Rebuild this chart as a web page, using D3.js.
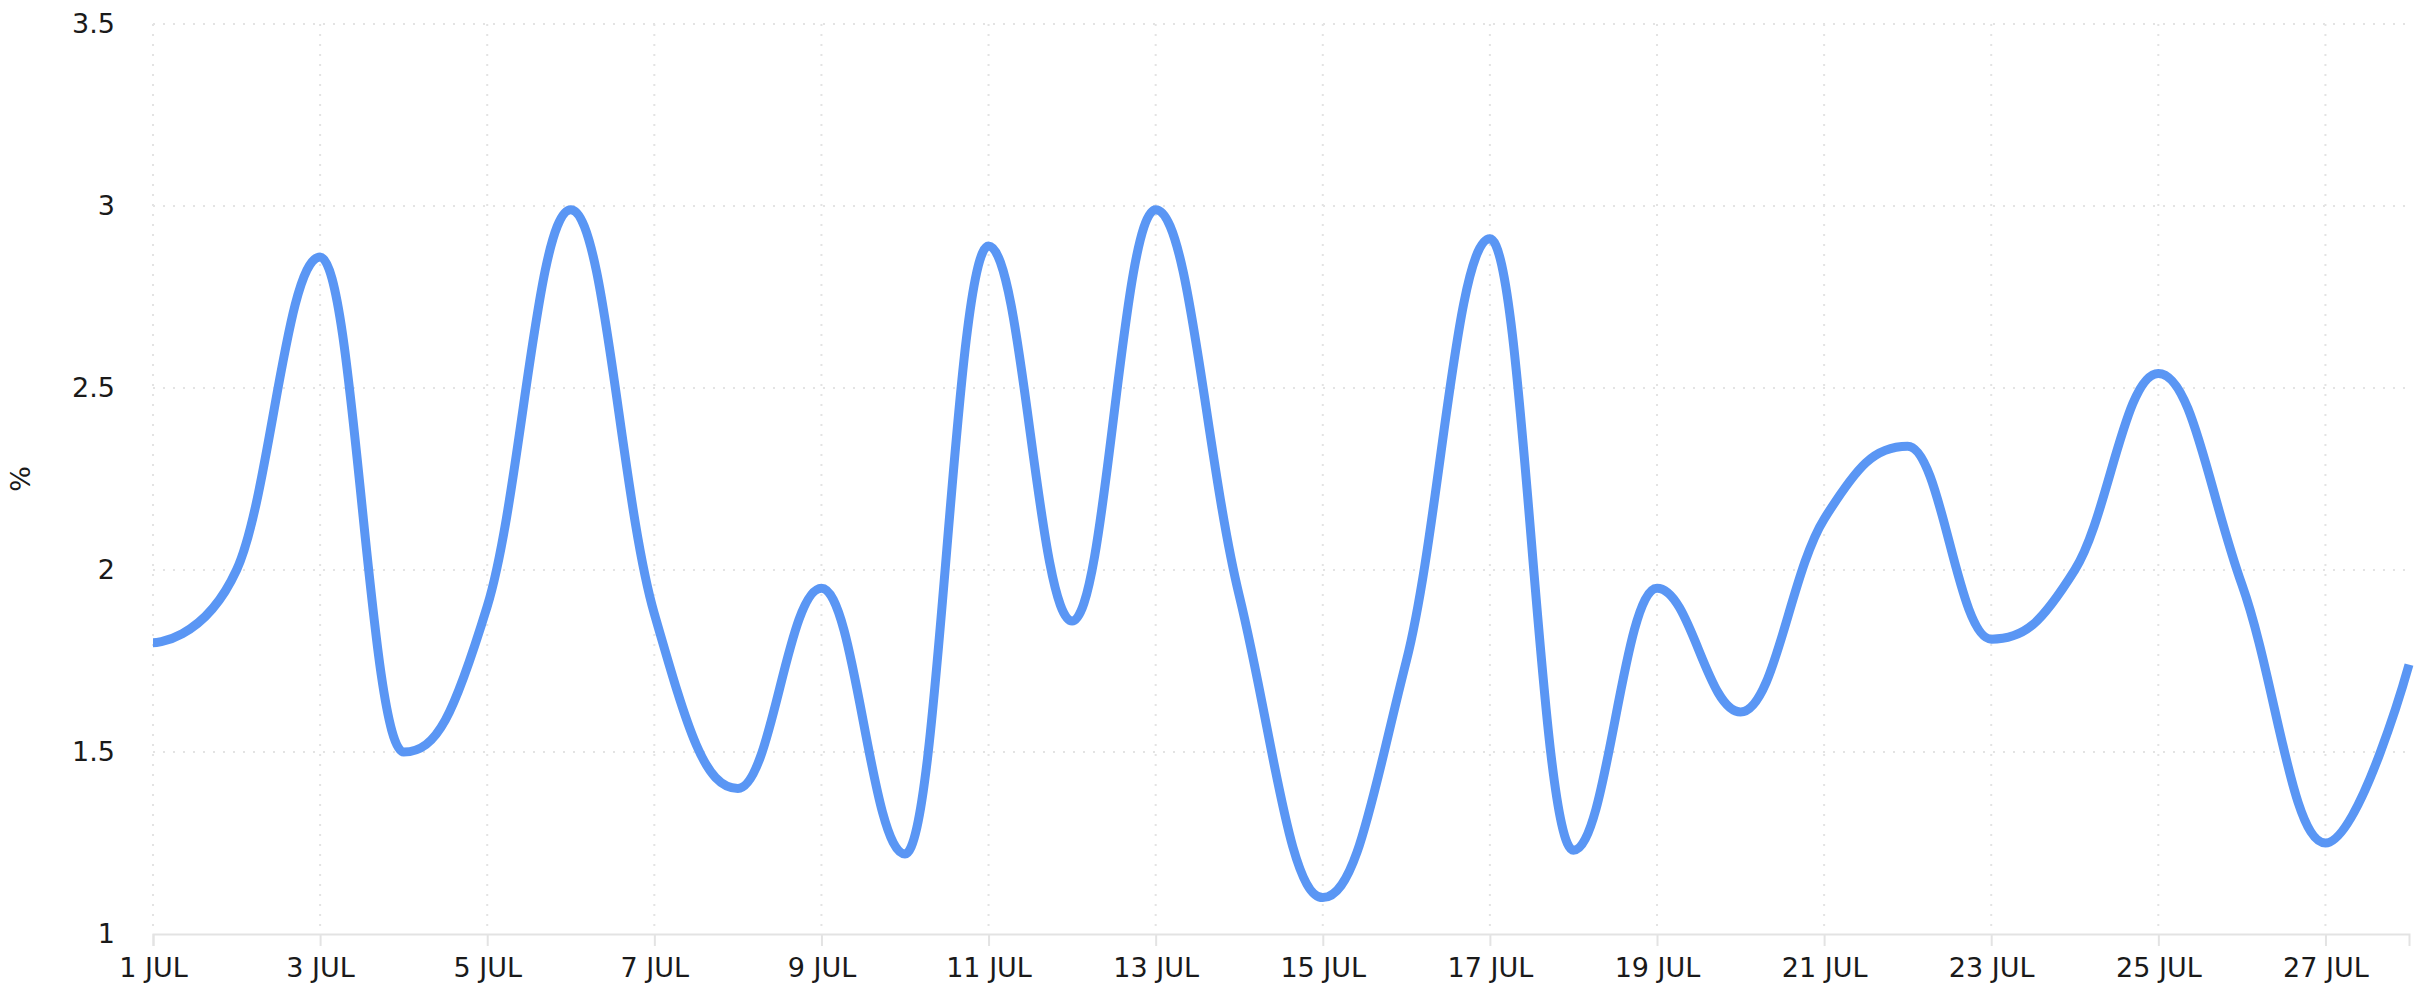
<!DOCTYPE html>
<html>
<head>
<meta charset="utf-8">
<script src="https://cdn.jsdelivr.net/npm/d3@7"></script>
<style>
  body { margin: 0; background: #fff; }
  svg { display: block; font-family: "DejaVu Sans", sans-serif; }
</style>
</head>
<body>
<svg id="chart" width="2425" height="1000"></svg>
<script>
// daily values, July
var days = [1, 2, 3, 4, 5, 6, 7, 8, 9, 10, 11, 12, 13, 14, 15, 16, 17, 18, 19, 20, 21, 22, 23, 24, 25, 26, 27, 28];
var values = [1.80, 2.00, 2.86, 1.50, 1.90, 2.99, 1.88, 1.40, 1.95, 1.22, 2.89, 1.86, 2.99, 1.93,
              1.10, 1.75, 2.91, 1.23, 1.95, 1.61, 2.14, 2.34, 1.81, 2.00, 2.54, 1.96, 1.25, 1.74];
var xTicks = [1, 3, 5, 7, 9, 11, 13, 15, 17, 19, 21, 23, 25, 27];
var yTicks = [1, 1.5, 2, 2.5, 3, 3.5];
var monthLabel = 'JUL';
var yLabel = '%';

var margin = { top: 24, right: 16, bottom: 66, left: 153 };
var width = 2425 - margin.left - margin.right;
var height = 1000 - margin.top - margin.bottom;

// spline curve: control points at 0.4 of each interval, flattened at extremes
function Spline(context) { this._context = context; }
Spline.prototype = {
    areaStart: function () { this._line = 0; },
    areaEnd: function () { this._line = NaN; },
    lineStart: function () { this._px = []; this._py = []; },
    point: function (x, y) { this._px.push(+x); this._py.push(+y); },
    lineEnd: function () {
        var px = this._px, py = this._py, n = px.length, ctx = this._context;
        if (!n) return;
        var L = [], R = [];
        R[0] = [px[0], py[0]];
        L[n - 1] = [px[n - 1], py[n - 1]];
        for (var i = 1; i < n - 1; i++) {
            var lastX = px[i - 1], lastY = py[i - 1];
            var plotX = px[i], plotY = py[i];
            var nextX = px[i + 1], nextY = py[i + 1];
            var lcx = (1.5 * plotX + lastX) / 2.5, lcy = (1.5 * plotY + lastY) / 2.5;
            var rcx = (1.5 * plotX + nextX) / 2.5, rcy = (1.5 * plotY + nextY) / 2.5;
            if (rcx !== lcx) {
                var corr = ((rcy - lcy) * (rcx - plotX)) / (rcx - lcx) + plotY - rcy;
                lcy += corr;
                rcy += corr;
            }
            if (lcy > lastY && lcy > plotY) {
                lcy = Math.max(lastY, plotY);
                rcy = 2 * plotY - lcy;
            } else if (lcy < lastY && lcy < plotY) {
                lcy = Math.min(lastY, plotY);
                rcy = 2 * plotY - lcy;
            }
            if (rcy > nextY && rcy > plotY) {
                rcy = Math.max(nextY, plotY);
                lcy = 2 * plotY - rcy;
            } else if (rcy < nextY && rcy < plotY) {
                rcy = Math.min(nextY, plotY);
                lcy = 2 * plotY - rcy;
            }
            L[i] = [lcx, lcy];
            R[i] = [rcx, rcy];
        }
        ctx.moveTo(px[0], py[0]);
        for (var j = 1; j < n; j++) {
            ctx.bezierCurveTo(R[j - 1][0], R[j - 1][1], L[j][0], L[j][1], px[j], py[j]);
        }
    }
};
function curveSpline(context) { return new Spline(context); }

var svg = d3.select('#chart');
var g = svg.append('g').attr('transform', 'translate(' + margin.left + ',' + margin.top + ')');

var x = d3.scaleLinear().domain([1, 28]).range([0, width]);
var y = d3.scaleLinear().domain([1, 3.5]).range([height, 0]);

// grid
g.append('g')
    .selectAll('line.hgrid')
    .data(yTicks.filter(function (d) { return d > 1; }))
    .enter().append('line')
    .attr('x1', 0).attr('x2', width)
    .attr('y1', function (d) { return y(d); })
    .attr('y2', function (d) { return y(d); })
    .style('stroke', '#e3e3e3')
    .style('stroke-width', 2)
    .style('stroke-dasharray', '2,8');

g.append('g')
    .selectAll('line.vgrid')
    .data(xTicks)
    .enter().append('line')
    .attr('x1', function (d) { return x(d); })
    .attr('x2', function (d) { return x(d); })
    .attr('y1', 0).attr('y2', height)
    .style('stroke', '#e3e3e3')
    .style('stroke-width', 2)
    .style('stroke-dasharray', '2,8');

// x axis
var xAxis = g.append('g')
    .attr('transform', 'translate(0,' + height + ')')
    .call(d3.axisBottom(x)
        .tickValues(xTicks)
        .tickSize(12)
        .tickPadding(12)
        .tickFormat(function (d) { return d + ' ' + monthLabel; }));
xAxis.select('.domain').style('stroke', '#e3e3e3').style('stroke-width', 2);
xAxis.selectAll('.tick line').style('stroke', '#e3e3e3').style('stroke-width', 2);
xAxis.selectAll('text')
    .style('font-family', '"DejaVu Sans", sans-serif')
    .style('font-size', '27px')
    .style('fill', '#1a1a1a');

// y axis
var yAxis = g.append('g')
    .call(d3.axisLeft(y)
        .tickValues(yTicks)
        .tickSize(0)
        .tickPadding(38)
        .tickFormat(d3.format('')));
yAxis.select('.domain').remove();
yAxis.selectAll('text')
    .style('font-family', '"DejaVu Sans", sans-serif')
    .style('font-size', '27px')
    .style('fill', '#1a1a1a');

svg.append('text')
    .attr('transform', 'translate(30,' + (margin.top + height / 2) + ') rotate(-90)')
    .attr('text-anchor', 'middle')
    .style('font-size', '27px')
    .style('fill', '#1a1a1a')
    .text(yLabel);

// line
var line = d3.line()
    .x(function (d, i) { return x(days[i]); })
    .y(function (d) { return y(d); })
    .curve(curveSpline);

g.append('path')
    .datum(values)
    .attr('d', line)
    .style('fill', 'none')
    .style('stroke', '#5a96f4')
    .style('stroke-width', 9)
    .style('stroke-linejoin', 'round');
</script>
</body>
</html>
